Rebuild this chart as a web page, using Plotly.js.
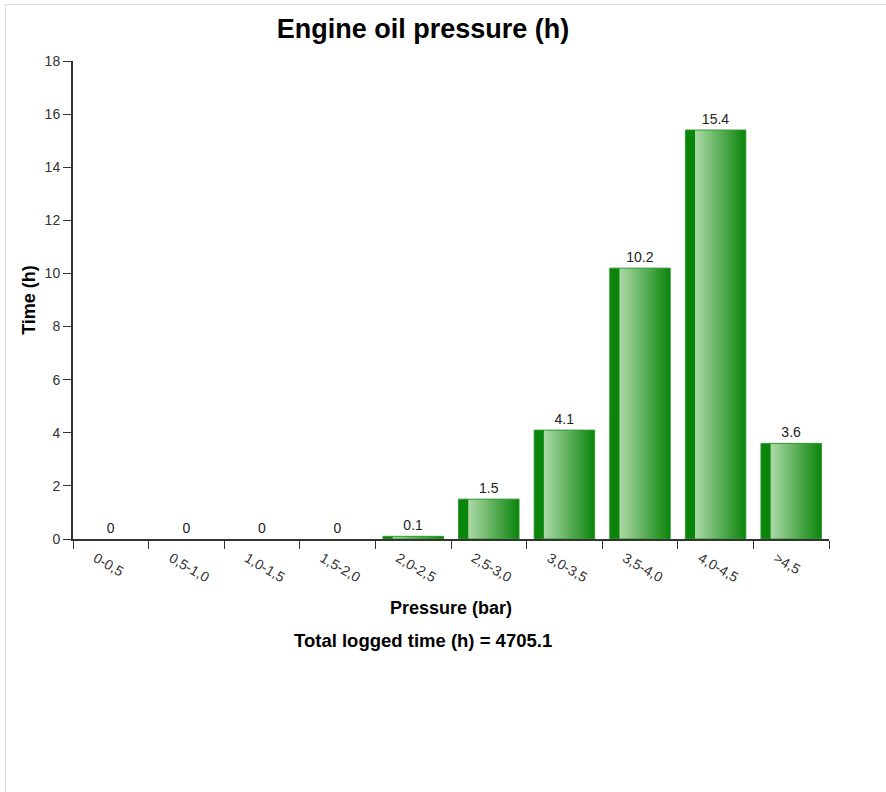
<!DOCTYPE html>
<html>
<head>
<meta charset="utf-8">
<script src="https://cdn.plot.ly/plotly-3.0.1.min.js"></script>
<style>
  html, body { margin: 0; padding: 0; background: #fff; }
  #chart { position: absolute; left: 0; top: 0; width: 886px; height: 792px; }
  #frame { position: absolute; left: 5px; top: 4px; right: 0; bottom: 0;
           border-left: 1px solid #dcdcdc; border-top: 1px solid #dcdcdc; pointer-events: none; }
</style>
</head>
<body>
<div id="chart"></div>
<div id="frame"></div>
<script>
// ---- data ----
const categories = ["0-0,5", "0,5-1,0", "1,0-1,5", "1,5-2,0", "2,0-2,5", "2,5-3,0", "3,0-3,5", "3,5-4,0", "4,0-4,5", ">4,5"];
const hours = [0, 0, 0, 0, 0.1, 1.5, 4.1, 10.2, 15.4, 3.6];
const chartTitle = "Engine oil pressure (h)";
const xTitle = "Pressure (bar)";
const yTitle = "Time (h)";
const totalLogged = 4705.1;

// ---- style: cylinder-like shading built from overlaid bar slices ----
const barWidth = 0.8;
const darkFrac = 0.16;
const nSlices = 24;
const lightRGB = [170, 216, 164];
const darkRGB = [14, 134, 14];
function mix(t) {
  const c = lightRGB.map((v, i) => Math.round(v + (darkRGB[i] - v) * t));
  return `rgb(${c[0]},${c[1]},${c[2]})`;
}

const traces = [];
// dark left stripe
traces.push({
  type: "bar", x: categories, y: hours,
  offset: -barWidth / 2, width: barWidth * darkFrac + 0.01,
  marker: { color: "#0a840a", line: { width: 0 } },
  hoverinfo: "skip", showlegend: false
});
const gStart = -barWidth / 2 + barWidth * darkFrac;
const gWidth = barWidth * (1 - darkFrac);
const step = gWidth / nSlices;
for (let i = 0; i < nSlices; i++) {
  const off = gStart + i * step;
  const w = (i === nSlices - 1) ? step : Math.min(step * 1.6, gStart + gWidth - off);
  traces.push({
    type: "bar", x: categories, y: hours,
    offset: off, width: w,
    marker: { color: mix(i / (nSlices - 1)), line: { width: 0 } },
    hoverinfo: "skip", showlegend: false
  });
}
// outline + value labels
traces.push({
  type: "bar", x: categories, y: hours,
  offset: -barWidth / 2, width: barWidth,
  marker: { color: "rgba(0,0,0,0)", line: { color: "#2e9a2e", width: hours.map(v => v > 0 ? 1 : 0) } },
  text: hours.map(v => String(v)),
  textposition: "outside",
  cliponaxis: false,
  textfont: { family: "Liberation Sans, Arial, sans-serif", size: 14, color: "#222" },
  hovertemplate: "%{x}: %{y}<extra></extra>",
  showlegend: false
});

const layout = {
  width: 886, height: 792,
  margin: { l: 73, r: 57, t: 61, b: 253 },
  paper_bgcolor: "#fff", plot_bgcolor: "#fff",
  barmode: "overlay",
  font: { family: "Liberation Sans, Arial, sans-serif", size: 14, color: "#333" },
  title: {
    text: "<b>" + chartTitle + "</b>",
    font: { size: 27, color: "#000" },
    x: 423 / 886, xanchor: "center", xref: "container",
    y: 1 - 29 / 792, yanchor: "middle", yref: "container"
  },
  xaxis: {
    type: "category",
    range: [-0.5, categories.length - 0.5],
    tickson: "boundaries",
    ticks: "outside", ticklen: 8, tickcolor: "#333", tickwidth: 1,
    tickangle: 30,
    ticklabelshift: -15,
    ticklabelstandoff: 4,
    tickfont: { size: 14, color: "#333" },
    showline: true, linecolor: "#333", linewidth: 2,
    showgrid: false, zeroline: false,
    title: { text: "<b>" + xTitle + "</b>", font: { size: 18, color: "#000" }, standoff: 17 },
    automargin: false
  },
  yaxis: {
    range: [0, 18], dtick: 2,
    ticks: "outside", ticklen: 8, tickcolor: "#333", tickwidth: 1,
    tickfont: { size: 14, color: "#333" },
    showline: true, linecolor: "#333", linewidth: 2,
    showgrid: false, zeroline: false,
    title: { text: "<b>" + yTitle + "</b>", font: { size: 18, color: "#000" }, standoff: 4 },
    automargin: false
  },
  annotations: [{
    text: "<b>Total logged time (h) = " + totalLogged + "</b>",
    xref: "paper", yref: "paper", x: 0.5 - 28 / 756, y: 0,
    xanchor: "center", yanchor: "middle", yshift: -101,
    showarrow: false, font: { size: 18.5, color: "#000" }
  }]
};

Plotly.newPlot("chart", traces, layout, { displayModeBar: false, staticPlot: true });
</script>
</body>
</html>
